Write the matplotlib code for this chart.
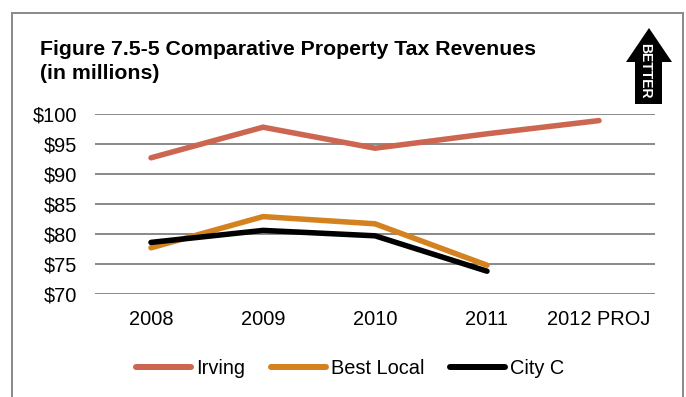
import matplotlib
matplotlib.use("Agg")
import matplotlib.pyplot as plt
from matplotlib.patches import Polygon
from matplotlib.lines import Line2D

plt.rcParams['font.family'] = ['Liberation Sans', 'DejaVu Sans']

# ---- data ----
categories = ["2008", "2009", "2010", "2011", "2012 PROJ"]
irving = [92.7, 97.8, 94.3, 96.7, 98.9]
best_local = [77.7, 82.9, 81.7, 74.8]
city_c = [78.6, 80.6, 79.7, 73.8]
yticks = [70, 75, 80, 85, 90, 95, 100]
ytick_labels = ["$70", "$75", "$80", "$85", "$90", "$95", "$100"]
title_lines = ["Figure 7.5-5 Comparative Property Tax Revenues", "(in millions)"]

W, H = 686, 397
DPI = 72
fig = plt.figure(figsize=(W / DPI, H / DPI), dpi=DPI)
fig.patch.set_facecolor("white")

def fx(px):
    return px / W

def fy(py):
    return 1 - py / H

ax = fig.add_axes([fx(95), fy(294), fx(655) - fx(95), fy(114) - fy(294)])

x = list(range(len(categories)))
lw = 5.5
ax.plot(x, irving, color="#CD6650", lw=lw, solid_capstyle="round", solid_joinstyle="miter", label="Irving", zorder=3)
ax.plot(x[:len(best_local)], best_local, color="#D4821F", lw=lw, solid_capstyle="round", solid_joinstyle="miter", label="Best Local", zorder=3)
ax.plot(x[:len(city_c)], city_c, color="#000000", lw=lw, solid_capstyle="round", solid_joinstyle="miter", label="City C", zorder=4)

ax.set_xlim(-0.5, len(categories) - 0.5)
ax.set_ylim(70, 100)
ax.set_yticks(yticks)
ax.set_yticklabels(ytick_labels)
ax.set_xticks(x)
ax.set_xticklabels(categories)
ax.tick_params(axis="both", length=0, labelsize=20, colors="black")
ax.tick_params(axis="y", pad=18)
ax.tick_params(axis="x", pad=16)
for s in ax.spines.values():
    s.set_visible(False)
ax.yaxis.grid(True, color="#8c8c8c", lw=2)
ax.set_axisbelow(True)
ax.patch.set_alpha(0)

# title
fig.text(fx(40), fy(55), title_lines[0], fontsize=21.3, fontweight="bold", ha="left", va="baseline")
fig.text(fx(40), fy(79), title_lines[1], fontsize=21.3, fontweight="bold", ha="left", va="baseline")

# legend
leg = fig.legend(loc="center", bbox_to_anchor=(fx(350), fy(368)), ncol=3, frameon=False,
                 fontsize=20, handlelength=2.75, handletextpad=0.25, columnspacing=1.3)
for h in leg.get_lines():
    h.set_linewidth(6)
    h.set_solid_capstyle("round")

# outer frame
frame_color = "#8c8c8c"
fig.add_artist(Line2D([fx(12), fx(12)], [fy(13), 0], transform=fig.transFigure, color=frame_color, lw=2))
fig.add_artist(Line2D([fx(12), fx(683)], [fy(13), fy(13)], transform=fig.transFigure, color=frame_color, lw=2))
fig.add_artist(Line2D([fx(683), fx(683)], [fy(13), 0], transform=fig.transFigure, color=frame_color, lw=2))

# "BETTER" arrow
arrow_px = [(649, 28), (672, 62), (662, 62), (662, 104), (635, 104), (635, 62), (626, 62)]
arrow = Polygon([(fx(a), fy(b)) for a, b in arrow_px], closed=True, transform=fig.transFigure,
                facecolor="black", edgecolor="black", lw=0)
fig.add_artist(arrow)
fig.text(fx(645), fy(71), "BETTER", rotation=-90, color="white", fontsize=14, fontweight="bold",
         ha="center", va="center")

fig.savefig("out.png", dpi=DPI, facecolor="white")
